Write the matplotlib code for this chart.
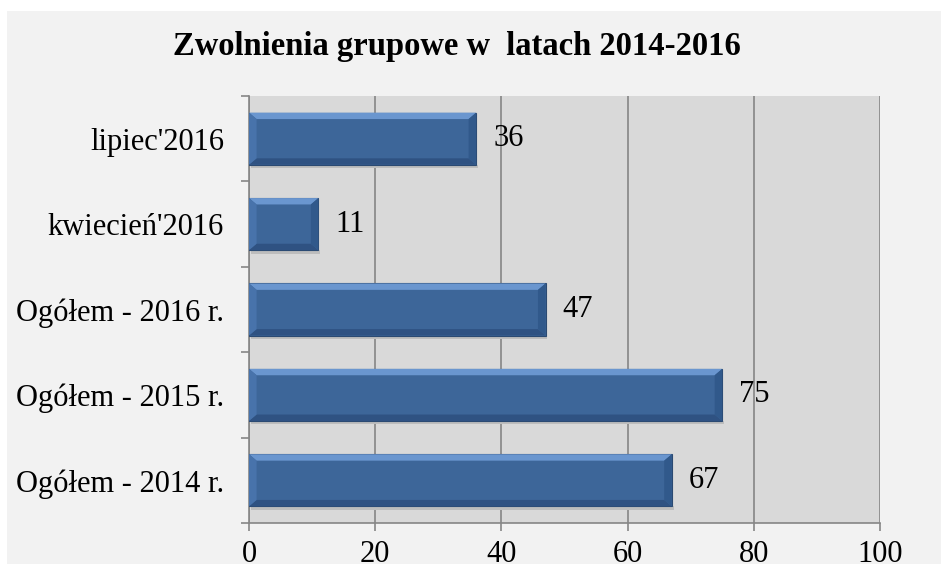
import matplotlib.pyplot as plt
from matplotlib.patches import Rectangle, Polygon

# dane z wykresu
kategorie = ["Ogółem - 2014 r.", "Ogółem - 2015 r.", "Ogółem - 2016 r.", "kwiecień'2016", "lipiec'2016"]
wartosci = [67, 75, 47, 11, 36]
x_ticks = [0, 20, 40, 60, 80, 100]

plt.rcParams["font.family"] = ["Liberation Serif", "DejaVu Serif"]

fig = plt.figure(figsize=(9.41, 5.64), dpi=100)
fig.patch.set_facecolor("white")
# jasnoszare tlo obszaru wykresu (biala ramka u gory i po lewej)
fig.patches.append(Rectangle((7 / 941, -0.1), 1, 1.1 - 11 / 564, transform=fig.transFigure,
                             facecolor="#f2f2f2", edgecolor="none", zorder=-5))

ax = fig.add_axes([249 / 941, 1 - 523 / 564, 631 / 941, 427 / 564])
ax.set_facecolor("#d9d9d9")

pos = list(range(len(kategorie)))
h = 0.61
bars = ax.barh(pos, wartosci, height=h, color="#3d6699", edgecolor="#2b4a72", linewidth=0.8, zorder=3)

# efekt fazowania (bevel) liczony z geometrii slupkow
bx = 1.2   # szerokosc fazy w jednostkach danych x
by = 0.075  # wysokosc fazy w jednostkach danych y
for b in bars:
    x0, y0 = b.get_x(), b.get_y()
    x1, y1 = x0 + b.get_width(), y0 + b.get_height()
    # cien pod slupkiem
    ax.add_patch(Rectangle((x0 + 0.3, y0 - 0.04), b.get_width(), 0.04, facecolor="#bdbdbd",
                           edgecolor="none", zorder=2))
    top = Polygon([(x0, y1), (x1, y1), (x1 - bx, y1 - by), (x0 + bx, y1 - by)], closed=True,
                  facecolor="#6a96cf", edgecolor="none", zorder=4)
    bot = Polygon([(x0, y0), (x1, y0), (x1 - bx, y0 + by), (x0 + bx, y0 + by)], closed=True,
                  facecolor="#2f5282", edgecolor="none", zorder=4)
    left = Polygon([(x0, y0), (x0, y1), (x0 + bx, y1 - by), (x0 + bx, y0 + by)], closed=True,
                   facecolor="#4873ab", edgecolor="none", zorder=4)
    right = Polygon([(x1, y0), (x1, y1), (x1 - bx, y1 - by), (x1 - bx, y0 + by)], closed=True,
                    facecolor="#31598b", edgecolor="none", zorder=4)
    for p in (top, bot, left, right):
        ax.add_patch(p)

for p, v in zip(pos, wartosci):
    ax.text(v + 2.7, p, str(v), va="center", ha="left", fontsize=22, color="black", zorder=5)

ax.set_xlim(0, 100)
ax.set_ylim(-0.5, len(kategorie) - 0.5)
ax.set_xticks(x_ticks)
ax.set_xticklabels([str(t) for t in x_ticks], fontsize=22)
ax.set_yticks(pos)
ax.set_yticklabels(kategorie, fontsize=22)
ax.set_yticks([i - 0.5 for i in range(len(kategorie) + 1)], minor=True)

ax.tick_params(axis="y", which="major", length=0, pad=18)
ax.tick_params(axis="y", which="minor", length=6, width=1.2, color="#868686", direction="out")
ax.tick_params(axis="x", which="major", length=6, width=1.2, color="#868686", direction="out", pad=6)

ax.grid(axis="x", color="#868686", linewidth=1.2, zorder=1)
ax.set_axisbelow(True)
for s in ("top", "right"):
    ax.spines[s].set_visible(False)
for s in ("left", "bottom"):
    ax.spines[s].set_color("#868686")
    ax.spines[s].set_linewidth(1.2)

fig.text(457 / 941, 1 - 46 / 564, "Zwolnienia grupowe w  latach 2014-2016", ha="center", va="center",
         fontsize=23.5, fontweight="bold")

fig.savefig("out.png", dpi=100)
